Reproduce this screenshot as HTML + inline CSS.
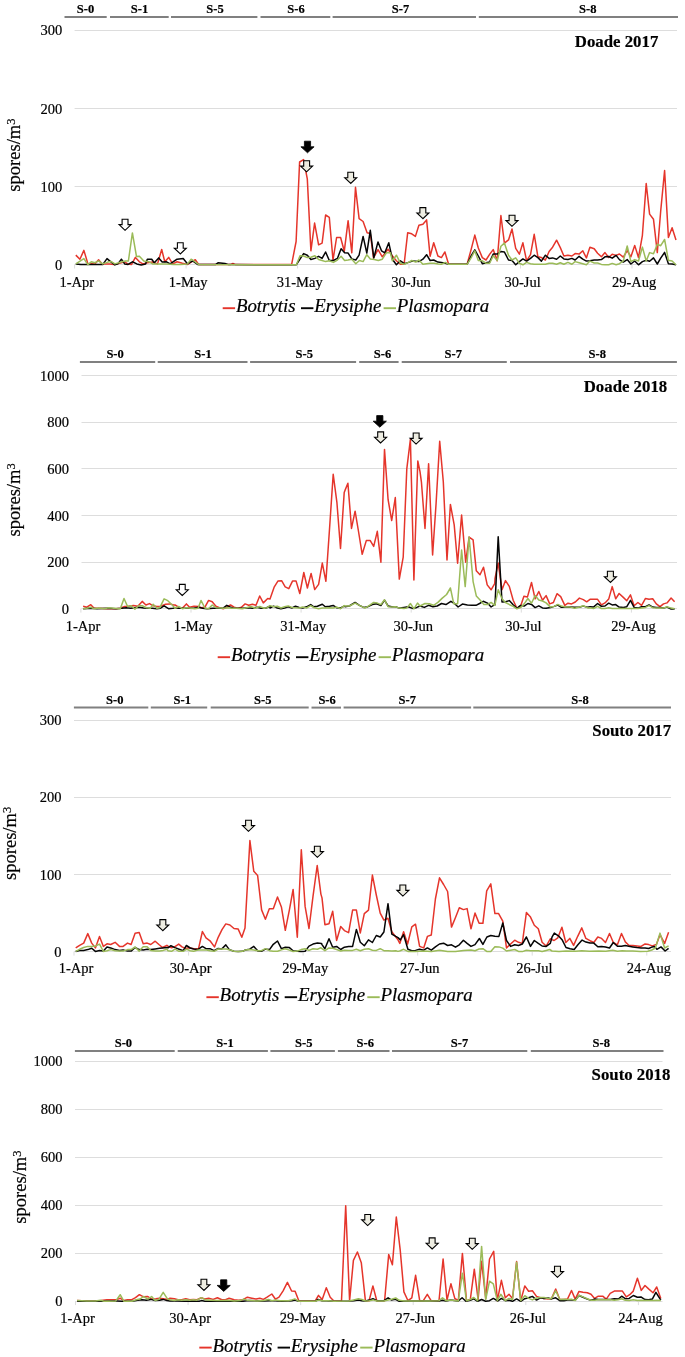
<!DOCTYPE html>
<html><head><meta charset="utf-8"><style>
html,body{margin:0;padding:0;background:#fff;}
svg{display:block;will-change:transform;}
text{font-family:"Liberation Serif", serif;fill:#000;stroke:#000;stroke-width:0.2px;}
</style></head><body>
<svg width="685" height="1357" viewBox="0 0 685 1357">
<line x1="74.6" y1="264.5" x2="677" y2="264.5" stroke="#dddddd" stroke-width="1"/>
<text x="62.2" y="269.6" text-anchor="end" font-size="14.5">0</text>
<line x1="74.6" y1="186.5" x2="677" y2="186.5" stroke="#dddddd" stroke-width="1"/>
<text x="62.2" y="191.5" text-anchor="end" font-size="14.5">100</text>
<line x1="74.6" y1="108.5" x2="677" y2="108.5" stroke="#dddddd" stroke-width="1"/>
<text x="62.2" y="113.5" text-anchor="end" font-size="14.5">200</text>
<line x1="74.6" y1="30.5" x2="677" y2="30.5" stroke="#dddddd" stroke-width="1"/>
<text x="62.2" y="35.4" text-anchor="end" font-size="14.5">300</text>
<line x1="64.5" y1="17" x2="106.7" y2="17" stroke="#808080" stroke-width="2"/>
<text transform="translate(85.5,12.9) scale(0.95,1)" text-anchor="middle" font-size="13.2" font-weight="bold" stroke="#000" stroke-width="0.25">S-0</text>
<line x1="110" y1="17" x2="168.7" y2="17" stroke="#808080" stroke-width="2"/>
<text transform="translate(139.5,12.9) scale(0.95,1)" text-anchor="middle" font-size="13.2" font-weight="bold" stroke="#000" stroke-width="0.25">S-1</text>
<line x1="171" y1="17" x2="257.4" y2="17" stroke="#808080" stroke-width="2"/>
<text transform="translate(215,12.9) scale(0.95,1)" text-anchor="middle" font-size="13.2" font-weight="bold" stroke="#000" stroke-width="0.25">S-5</text>
<line x1="260.5" y1="17" x2="330.3" y2="17" stroke="#808080" stroke-width="2"/>
<text transform="translate(296,12.9) scale(0.95,1)" text-anchor="middle" font-size="13.2" font-weight="bold" stroke="#000" stroke-width="0.25">S-6</text>
<line x1="332.6" y1="17" x2="476" y2="17" stroke="#808080" stroke-width="2"/>
<text transform="translate(400.5,12.9) scale(0.95,1)" text-anchor="middle" font-size="13.2" font-weight="bold" stroke="#000" stroke-width="0.25">S-7</text>
<line x1="478.8" y1="17" x2="678" y2="17" stroke="#808080" stroke-width="2"/>
<text transform="translate(587.8,12.9) scale(0.95,1)" text-anchor="middle" font-size="13.2" font-weight="bold" stroke="#000" stroke-width="0.25">S-8</text>
<text x="658.3" y="46.8" text-anchor="end" font-size="16.8" font-weight="bold">Doade 2017</text>
<line x1="74.6" y1="264.5" x2="74.6" y2="268.5" stroke="#dddddd" stroke-width="1"/>
<text x="76.7" y="286.8" text-anchor="middle" font-size="14.5">1-Apr</text>
<line x1="186.1" y1="264.5" x2="186.1" y2="268.5" stroke="#dddddd" stroke-width="1"/>
<text x="188.2" y="286.8" text-anchor="middle" font-size="14.5">1-May</text>
<line x1="297.6" y1="264.5" x2="297.6" y2="268.5" stroke="#dddddd" stroke-width="1"/>
<text x="299.7" y="286.8" text-anchor="middle" font-size="14.5">31-May</text>
<line x1="409" y1="264.5" x2="409" y2="268.5" stroke="#dddddd" stroke-width="1"/>
<text x="411.1" y="286.8" text-anchor="middle" font-size="14.5">30-Jun</text>
<line x1="520.5" y1="264.5" x2="520.5" y2="268.5" stroke="#dddddd" stroke-width="1"/>
<text x="522.6" y="286.8" text-anchor="middle" font-size="14.5">30-Jul</text>
<line x1="632" y1="264.5" x2="632" y2="268.5" stroke="#dddddd" stroke-width="1"/>
<text x="634.1" y="286.8" text-anchor="middle" font-size="14.5">29-Aug</text>
<text transform="translate(19.9,155.1) rotate(-90)" text-anchor="middle" font-size="18.5">spores/m<tspan font-size="12.5" dy="-5">3</tspan></text>
<line x1="222.7" y1="308.2" x2="235.1" y2="308.2" stroke="#e5352b" stroke-width="1.9"/>
<text transform="translate(235.9,312.2) scale(1.05,1)" font-size="18" font-style="italic">Botrytis</text>
<line x1="301" y1="308.2" x2="313.4" y2="308.2" stroke="#050505" stroke-width="1.9"/>
<text transform="translate(314.2,312.2) scale(1.05,1)" font-size="18" font-style="italic">Erysiphe</text>
<line x1="383.6" y1="308.2" x2="396" y2="308.2" stroke="#9bbb59" stroke-width="1.9"/>
<text transform="translate(396.8,312.2) scale(1.05,1)" font-size="18" font-style="italic">Plasmopara</text>
<polyline points="75.8,255.1 79.9,259.2 83.9,250.4 87.8,263.5 94.8,263.9 98.6,259.7 102.1,263.9 109.7,263.9 114,264.4 117.5,263.9 124.6,261.8 127.7,263.9 131.6,264.4 135.4,257.4 139.4,261.8 142.9,263.9 147.3,262.7 152.6,262.1 157.5,263.9 161.7,249.5 164.8,261.8 168.7,257.4 172.7,263.9 177.1,261.8 182.4,263.2 187.6,264.4 195.3,259.7 198.8,264.6 230.3,264.6 232.9,263.5 235.6,264.6 291.6,264.6 296.1,241.5 299.6,162 303.6,159.6 307.3,178.9 310.9,250.8 314.6,223.1 318.6,244.8 322.1,243.1 325.6,215 329.3,217.4 333,260 336.6,237.5 340.6,237.5 344.3,251.2 348.1,220.7 351.8,252.8 355.5,187.3 359.1,218.7 363.1,221.5 367.1,232.7 370.3,233.5 373.5,257.9 378,249.6 382.3,256.8 388,249.2 392.4,256 396.4,260.8 400.4,264.3 404.1,264.3 407.7,232.7 411.7,233.8 415.4,236.4 418.9,225.2 422.9,224.2 426.6,219.9 430.1,256.3 433.7,242.8 437.9,256 441.4,257.6 444.9,252 448.6,264.3 467.1,264.3 471.1,249.6 474.8,235.1 478.3,248 482.3,257.6 486,260 489.6,254.4 493.2,249.6 497.2,260.8 500.9,215.5 504.4,243.1 508.5,239.9 512,229 515.7,248.3 519.4,254.1 522.9,242.8 526.6,260.8 530.5,254.7 534.2,234.3 537.9,256.8 541.4,257.6 545.4,260 549.1,251.5 552.6,247.2 556.6,240.2 560.3,247.6 563.9,256 567.9,255.2 571.9,256 575.1,253.6 579.1,254.1 582.8,250.8 586.4,257.9 589.9,247.2 594.2,248.8 597.6,253.3 601.4,256.8 605,252.6 608.7,257.5 612.2,254.3 616.1,255.4 619.4,254 623.3,257.1 627.2,250.6 630.9,256.8 634.7,245.4 638.5,257.5 642.4,235.3 646.2,183.6 649.6,214.1 653.5,219.3 657.3,252.6 660.7,211 664.6,170.5 668.4,237.4 672.1,227.7 676,239.9" fill="none" stroke="#e5352b" stroke-width="1.5" stroke-linejoin="round"/>
<polyline points="75.8,263.9 80.8,264.6 87.8,264.6 102.7,264.6 107,258.6 110.9,261.8 114.9,264.9 117.9,263.9 121.4,259.2 124.6,263.9 128.1,264.4 132.4,261.8 136.8,263.9 141.2,264.9 145.6,263.9 147.3,259.2 151.7,259.2 154.3,262.7 158.7,257.9 162.2,262.1 166.6,261.8 170.1,263.9 177.1,259.2 183.2,258.6 187.6,263.9 192.6,260.9 197.9,264.6 215.4,264.6 218,262.8 225,263.5 228.5,264.6 296.4,264.7 303.6,253.6 307.3,255.2 310.9,259.5 314.9,258.4 318.6,256.3 322.1,258.4 325.6,252 329.3,260.5 333.4,260.5 337.4,258.4 341.1,248.8 344.6,252.8 348.1,253.1 351.8,258.9 355.8,260 359.1,255.2 363.1,236.4 366.8,253.1 370.3,230.3 373.8,257.9 378,241.9 381.5,250.8 384.8,252.8 388.8,242.8 392.4,259.2 396.4,264.8 400.4,260.8 404.4,263.7 408.5,262.4 412.5,261.1 418.9,261.6 422.9,259.2 426.6,254.7 430.1,260.5 433.7,260 437.9,262.1 441.4,262.4 445.4,263.2 448.6,264.3 467.1,264.3 471.1,256 474.8,249.9 478.3,256 482.3,263.7 486,262.7 489.6,262.1 493.2,254.1 497.2,254.1 500.9,251.5 504.4,252 508.5,260 512,260.5 515.7,264.8 519.4,261.6 522.9,258.9 526.6,261.1 530.5,258.4 534.2,255.2 537.9,257.6 541.4,261.1 545.4,255.2 549.1,258.4 552.6,257.9 556.6,259.2 560.3,256 563.9,258.9 567.9,259.5 571.9,258.4 575.1,260 579.1,256.3 582.8,259.2 586.4,261.1 589.9,260.8 594.2,259.9 597.6,259.9 601.4,259.6 605,256.8 608.7,256.5 612.2,258.2 616.1,255.4 619.4,259.6 623.3,262.1 627.2,259.6 630.9,264 634.7,261 638.5,264.8 642.4,261.6 646.2,260.3 649.6,261.2 653.5,257.9 657.3,264 660.7,258.2 664.6,252.4 668.4,263.7 672.1,264 676,264.8" fill="none" stroke="#050505" stroke-width="1.5" stroke-linejoin="round"/>
<polyline points="75.8,263.9 83.9,258.6 87.8,264.6 91.3,261.8 94.8,262.7 98.6,260.9 102.7,263.9 107.9,262.1 110.9,261.4 114.9,263.9 121.9,261.8 125.4,260.9 128.4,260.9 132.4,232.9 136.5,256.5 139.4,256.2 143.8,260.9 149.1,261.8 152.6,263.9 159.6,263.9 166.6,263.9 173.6,264.6 180.6,264.6 187.6,263.9 191.1,259.3 192.6,260 198.8,264.6 296.4,264.7 300,255.7 303.6,256 307.3,257.6 310.9,257.3 314.9,255.7 318.6,259.5 322.1,260.5 325.6,261.6 329.3,260.8 333.4,262.4 337.4,260 341.1,256.3 344.6,260.5 348.1,260 351.8,259.2 355.8,263.7 359.4,260.5 363.1,261.6 366.8,254.7 370.3,258.9 374.3,259.5 378.3,260.5 382.3,259.2 386.4,252.8 390.4,252.8 392.4,260.8 396.4,255.2 400.4,263.2 404.4,264.3 408.5,262.4 411.7,260.5 415.7,262.1 418.9,260 422.9,264.3 430.1,263.2 434.2,263.2 438.2,264 441.4,264.3 445.4,262.4 448.6,264.3 467.1,264.3 471.1,257.9 474.8,250.8 478.3,260.5 482.3,260.8 486,263.2 489.6,263.2 493.2,255.7 497.2,260.5 500.9,246.3 504.4,243.1 508.5,255.2 512,260 515.7,257.9 519.4,263.2 522.9,264.8 526.6,262.4 530.5,263.7 534.2,264.3 538.2,264.3 545.4,264.3 549.1,263.2 552.6,263.2 556.6,264.3 560.3,262.7 563.9,264.3 567.9,262.4 571.9,264.3 575.1,261.6 579.1,262.7 582.8,263.7 586.4,264.8 589.9,261.1 594.2,263 597.6,263 601.4,264.4 605,264.8 608.7,264.8 612.2,263.4 616.1,264.8 619.4,263.7 623.3,261 627.2,246 630.9,261.6 634.7,259.6 638.5,261 642.4,247.1 646.2,261 649.6,252.6 653.5,253.7 657.3,244.3 660.7,245.7 664.6,239.5 668.4,260.3 672.1,261 676,264.8" fill="none" stroke="#9bbb59" stroke-width="1.5" stroke-linejoin="round"/>
<line x1="81.5" y1="608.5" x2="677" y2="608.5" stroke="#dddddd" stroke-width="1"/>
<text x="69.1" y="613.7" text-anchor="end" font-size="14.5">0</text>
<line x1="81.5" y1="562.5" x2="677" y2="562.5" stroke="#dddddd" stroke-width="1"/>
<text x="69.1" y="567.1" text-anchor="end" font-size="14.5">200</text>
<line x1="81.5" y1="515.5" x2="677" y2="515.5" stroke="#dddddd" stroke-width="1"/>
<text x="69.1" y="520.5" text-anchor="end" font-size="14.5">400</text>
<line x1="81.5" y1="468.5" x2="677" y2="468.5" stroke="#dddddd" stroke-width="1"/>
<text x="69.1" y="474" text-anchor="end" font-size="14.5">600</text>
<line x1="81.5" y1="422.5" x2="677" y2="422.5" stroke="#dddddd" stroke-width="1"/>
<text x="69.1" y="427.4" text-anchor="end" font-size="14.5">800</text>
<line x1="81.5" y1="375.5" x2="677" y2="375.5" stroke="#dddddd" stroke-width="1"/>
<text x="69.1" y="380.8" text-anchor="end" font-size="14.5">1000</text>
<line x1="79.9" y1="361.9" x2="155.2" y2="361.9" stroke="#808080" stroke-width="2"/>
<text transform="translate(115.1,357.8) scale(0.95,1)" text-anchor="middle" font-size="13.2" font-weight="bold" stroke="#000" stroke-width="0.25">S-0</text>
<line x1="157.7" y1="361.9" x2="247.5" y2="361.9" stroke="#808080" stroke-width="2"/>
<text transform="translate(203,357.8) scale(0.95,1)" text-anchor="middle" font-size="13.2" font-weight="bold" stroke="#000" stroke-width="0.25">S-1</text>
<line x1="250.1" y1="361.9" x2="356.1" y2="361.9" stroke="#808080" stroke-width="2"/>
<text transform="translate(304.2,357.8) scale(0.95,1)" text-anchor="middle" font-size="13.2" font-weight="bold" stroke="#000" stroke-width="0.25">S-5</text>
<line x1="359.2" y1="361.9" x2="398.6" y2="361.9" stroke="#808080" stroke-width="2"/>
<text transform="translate(382.5,357.8) scale(0.95,1)" text-anchor="middle" font-size="13.2" font-weight="bold" stroke="#000" stroke-width="0.25">S-6</text>
<line x1="401.7" y1="361.9" x2="506.8" y2="361.9" stroke="#808080" stroke-width="2"/>
<text transform="translate(453.2,357.8) scale(0.95,1)" text-anchor="middle" font-size="13.2" font-weight="bold" stroke="#000" stroke-width="0.25">S-7</text>
<line x1="510" y1="361.9" x2="676.9" y2="361.9" stroke="#808080" stroke-width="2"/>
<text transform="translate(597.2,357.8) scale(0.95,1)" text-anchor="middle" font-size="13.2" font-weight="bold" stroke="#000" stroke-width="0.25">S-8</text>
<text x="667.2" y="391.7" text-anchor="end" font-size="16.8" font-weight="bold">Doade 2018</text>
<line x1="80.9" y1="608.6" x2="80.9" y2="612.6" stroke="#dddddd" stroke-width="1"/>
<text x="83" y="631" text-anchor="middle" font-size="14.5">1-Apr</text>
<line x1="191" y1="608.6" x2="191" y2="612.6" stroke="#dddddd" stroke-width="1"/>
<text x="193.1" y="631" text-anchor="middle" font-size="14.5">1-May</text>
<line x1="301.1" y1="608.6" x2="301.1" y2="612.6" stroke="#dddddd" stroke-width="1"/>
<text x="303.2" y="631" text-anchor="middle" font-size="14.5">31-May</text>
<line x1="411.2" y1="608.6" x2="411.2" y2="612.6" stroke="#dddddd" stroke-width="1"/>
<text x="413.3" y="631" text-anchor="middle" font-size="14.5">30-Jun</text>
<line x1="521.3" y1="608.6" x2="521.3" y2="612.6" stroke="#dddddd" stroke-width="1"/>
<text x="523.4" y="631" text-anchor="middle" font-size="14.5">30-Jul</text>
<line x1="631.4" y1="608.6" x2="631.4" y2="612.6" stroke="#dddddd" stroke-width="1"/>
<text x="633.5" y="631" text-anchor="middle" font-size="14.5">29-Aug</text>
<text transform="translate(19.9,499.9) rotate(-90)" text-anchor="middle" font-size="18.5">spores/m<tspan font-size="12.5" dy="-5">3</tspan></text>
<line x1="217.7" y1="657.2" x2="230.1" y2="657.2" stroke="#e5352b" stroke-width="1.9"/>
<text transform="translate(230.9,661.2) scale(1.05,1)" font-size="18" font-style="italic">Botrytis</text>
<line x1="296" y1="657.2" x2="308.4" y2="657.2" stroke="#050505" stroke-width="1.9"/>
<text transform="translate(309.2,661.2) scale(1.05,1)" font-size="18" font-style="italic">Erysiphe</text>
<line x1="378.6" y1="657.2" x2="391" y2="657.2" stroke="#9bbb59" stroke-width="1.9"/>
<text transform="translate(391.8,661.2) scale(1.05,1)" font-size="18" font-style="italic">Plasmopara</text>
<polyline points="83.1,606.2 86.8,607.2 90.8,604.7 94.1,608.2 98.4,608.2 107.2,608.7 116,608.7 120.3,608.2 124.7,606.5 128.4,606.2 133.5,605.6 137.8,606.2 142.2,601.4 145.9,605 149.5,603.6 153.2,605.8 156.8,606.5 160.5,606.2 165.6,604.3 170,603.9 173.6,605 175,605 178.7,607.2 182.3,608.2 186.4,603.9 189.6,607.2 194,606.2 198.4,606.5 201.3,607.7 204.9,607.2 208.6,600.4 212.2,601.8 215.9,606.2 219.5,607.7 223.2,608.7 226.8,607.2 230.5,605 234.1,607.2 237.8,608.2 241.4,607.2 245.1,603.9 248.7,605.3 252.4,604.3 256,605.3 259.7,596 263.3,602.9 267.7,598.5 270,598.9 274.3,586.8 277.9,581.1 281.6,580.7 285.2,586.8 288.8,588.6 292.5,581.1 296.1,581.1 299.8,593.5 303.8,572.5 307.4,588 311.1,573.4 314.7,589.6 318.6,584.4 322.3,563.1 325.9,581.3 329.6,527.8 333.2,474.3 336.9,502.3 340.5,548.5 344.2,492.6 345,490.4 347.9,483.2 351.5,528.4 355.1,511.2 358.6,532 362.2,554.3 366.3,540.6 370.1,540.4 373.7,546.4 377.3,531.3 380.9,562.2 384.5,449.4 388.1,499.7 391.7,520.5 395.3,497.6 399.3,579.1 403.2,557.2 406.8,468.8 410.4,439.4 413.9,580.1 417.8,460.9 420,471.7 421.4,481.8 425,528.4 428.6,463.8 432.6,555 436.1,503.3 439.7,441.3 443.3,481.8 447,560 450.4,504.4 454.2,524.9 457.6,563.3 461.6,515.1 465.7,562.2 469.1,537.1 473.1,539.9 476.3,570.8 480,574.8 483.5,567.2 487.2,584.9 491.1,589.8 494.7,583.7 495,578.4 498.2,563.1 502,589.8 505.5,580.6 509.3,586.4 513.2,600.3 516.9,608.3 520.5,606.4 523.9,596.2 527.4,597.1 531.5,582.5 535.1,598.8 538.8,591.5 542.5,600.3 546.1,595.6 549.7,603.9 553.4,602.5 557,593.7 560.7,596.6 564.8,605.4 568,603.2 571.6,603.9 575.3,602 579.4,598.1 583.3,599.6 586.7,601.8 590,599.3 593.5,599.3 597.6,599.3 601.4,604.9 605,602.9 608.7,599.1 612.2,586.6 615.7,598.8 619.1,593.5 623.3,597.4 626.8,600.7 630.5,594.9 634.1,605.7 637.9,602.5 641.6,605.3 645.5,598.4 649,599.3 652.7,598.8 656.3,603.9 660,606.7 663.5,603.9 667,602.9 671.1,598 674.6,601.8" fill="none" stroke="#e5352b" stroke-width="1.5" stroke-linejoin="round"/>
<polyline points="83.1,608.7 91.1,608.2 97,608.7 107.2,608.2 116,608.7 121.8,608.2 126.2,607.7 130.6,608.2 134.9,607.7 139.3,607.2 143.7,608 148.1,608.2 152.4,608.2 156.8,608.7 160.5,608.2 164.1,605.8 168.5,608.7 172.9,608.2 175,607.7 178.7,608.2 182.3,608.2 186.7,608.2 194,608.2 198.4,607.2 202.7,608.2 207.1,608.7 213,608.2 218.8,608.2 223.2,608.2 226.8,605.3 230.5,607.2 234.1,608.2 237.8,608.2 242.2,608.2 248,607.7 252.4,608.2 256.8,607.2 261.1,608.2 265.5,608.2 269.9,606.2 270,608 273.6,606.2 277.3,608 280.9,608.7 284.6,608 288.2,606.8 291.9,608 295.5,606.2 299.2,607.5 302.8,608 306.5,606.8 310.7,604.6 313.8,606.8 317.4,606.2 322.3,604.2 325.3,606.8 329.6,606.2 333.2,605.4 336.9,607.8 340.5,608 344.2,606.2 345,606.7 349.3,606 355.1,602.4 359.4,605.3 363.7,607.4 368,606.7 372.3,604.6 376.6,603.8 380.9,605.6 384.5,600.2 388.1,606 391.7,606.7 395.3,606.7 399.6,608.1 403.9,607.4 408.2,606.7 412.5,608.4 416.8,607.4 420,606 424.3,607.4 428.6,605.3 432.9,606.7 437.2,606 441.5,603.5 445.9,604.6 450.9,601.3 454.5,603.5 458.1,607 462.4,604.1 467.4,605 471.7,605.3 476,605.3 479.6,603.5 483.2,601.3 487.5,603.1 491.1,607 494.7,604.6 495,604.7 498.2,536.8 502,602 505.5,601.8 509.3,600.6 513.2,604.7 516.9,608.3 520.5,605.4 524.2,606.1 527.9,603.5 531.5,604.4 535.1,607.6 538.8,605.8 542.5,607.9 546.1,608.3 550.5,607.6 554.1,606.4 557.8,605 561.4,607.3 565.1,607.3 569.5,606.9 574.6,607.3 578.9,607.3 583.3,606.1 587.7,607.3 590,606.7 593.5,607.1 597.6,603.5 601.4,606.3 605,606 608.7,603.2 612.2,604.9 615.7,604.6 619.1,607.1 623.3,607.4 626.8,606.7 630.5,600.4 634.1,607.4 637.9,608.1 641.6,606.7 645.5,606.7 649,604.9 652.7,607.1 656.3,607.4 660,607.4 663.5,608.1 667,607.1 671.1,609 674.6,609" fill="none" stroke="#050505" stroke-width="1.5" stroke-linejoin="round"/>
<polyline points="83.1,608.7 86.8,608.2 90.8,607.2 94.1,608.7 98.4,608 104.3,608.7 108.7,607.7 113.8,608.2 120.3,608.7 124,598.5 127.6,606.5 131.3,605.8 134.9,609.1 138.6,605.8 142.2,605.8 146.6,607.7 150.3,608.2 153.2,604.3 156.8,608.2 159.8,607.7 164.1,598.9 167.8,600.7 172.2,605 175,608.2 178.7,606.5 182.3,608.7 186.7,607.7 191.1,608.2 194.7,608.7 198.1,608.2 201,600.4 204.9,608 208.6,608.7 212.2,605 215.9,607.7 220.3,608 223.9,608.2 227.6,607.7 231.9,608.2 236.3,608.2 242.2,608.7 246.5,607.7 250.9,606.5 255.3,608.2 259.7,606.5 264.1,608.2 267,607.7 270,605.6 273.6,606.8 277.3,606.2 280.9,608 284.6,606.8 288.2,605.9 291.9,607.5 295.5,607.8 299.2,608 302.8,607.1 306.5,608 310.7,605.6 313.8,607.5 318.6,608.7 322.3,608 325.9,608 329.6,607.8 333.2,608 336.9,607.1 340.5,608.7 344.2,605.6 345,606 349.3,606 355.1,603.1 359.4,605.3 365.1,608.1 369.4,605.3 373.7,602.4 377.3,603.1 380.9,604.6 384.5,599.8 388.1,606.7 391.7,607 395.3,606.7 399.6,608.1 403.9,608.4 406.8,608.1 410.4,603.5 413.9,608.9 417.5,603.1 420,606 425,603.5 429.3,603.8 433.6,605.3 437.9,602.4 442.3,598.1 446.6,594.5 450.4,588 453.8,603.8 457.6,603.8 461.6,550 465.2,586.6 469.1,537.1 473.1,581.6 476.3,595.9 480.3,600.2 483.9,604.6 487.5,604.6 491.1,602.4 494.7,605.3 495,604.7 498.2,589.8 502,598.8 505.5,602.5 509.6,604.7 513.2,606.4 516.9,608.8 520.5,607.6 524.2,603.9 527.9,598.5 531.5,603.2 535.1,595.6 538.8,600 542.5,601 546.1,602.9 550.2,606.9 554.1,606.4 557.8,604.4 561.4,606.1 565.1,606.9 569.5,606.9 574.6,608.3 578.9,607.3 583.3,605.8 587.7,607.9 590,607.7 593.5,608.5 597.6,606.3 601.4,608.5 605,608.5 608.7,607.7 612.2,608.5 615.7,608.5 623.3,608.5 630.5,608.5 637.9,608.5 645.5,607.4 649,605.7 652.7,607.7 660,608.1 663.5,608.1 667,606.7 671.1,608.1 674.6,608.8" fill="none" stroke="#9bbb59" stroke-width="1.5" stroke-linejoin="round"/>
<line x1="74" y1="951.5" x2="671" y2="951.5" stroke="#dddddd" stroke-width="1"/>
<text x="61.6" y="956.7" text-anchor="end" font-size="14.5">0</text>
<line x1="74" y1="874.5" x2="671" y2="874.5" stroke="#dddddd" stroke-width="1"/>
<text x="61.6" y="879.5" text-anchor="end" font-size="14.5">100</text>
<line x1="74" y1="797.5" x2="671" y2="797.5" stroke="#dddddd" stroke-width="1"/>
<text x="61.6" y="802.3" text-anchor="end" font-size="14.5">200</text>
<line x1="74" y1="720.5" x2="671" y2="720.5" stroke="#dddddd" stroke-width="1"/>
<text x="61.6" y="725.1" text-anchor="end" font-size="14.5">300</text>
<line x1="73.9" y1="707.6" x2="148.3" y2="707.6" stroke="#808080" stroke-width="2"/>
<text transform="translate(114.8,703.5) scale(0.95,1)" text-anchor="middle" font-size="13.2" font-weight="bold" stroke="#000" stroke-width="0.25">S-0</text>
<line x1="150.8" y1="707.6" x2="207.2" y2="707.6" stroke="#808080" stroke-width="2"/>
<text transform="translate(182.2,703.5) scale(0.95,1)" text-anchor="middle" font-size="13.2" font-weight="bold" stroke="#000" stroke-width="0.25">S-1</text>
<line x1="210.7" y1="707.6" x2="308.7" y2="707.6" stroke="#808080" stroke-width="2"/>
<text transform="translate(262.7,703.5) scale(0.95,1)" text-anchor="middle" font-size="13.2" font-weight="bold" stroke="#000" stroke-width="0.25">S-5</text>
<line x1="311.5" y1="707.6" x2="341" y2="707.6" stroke="#808080" stroke-width="2"/>
<text transform="translate(327.1,703.5) scale(0.95,1)" text-anchor="middle" font-size="13.2" font-weight="bold" stroke="#000" stroke-width="0.25">S-6</text>
<line x1="343.6" y1="707.6" x2="471.1" y2="707.6" stroke="#808080" stroke-width="2"/>
<text transform="translate(407.3,703.5) scale(0.95,1)" text-anchor="middle" font-size="13.2" font-weight="bold" stroke="#000" stroke-width="0.25">S-7</text>
<line x1="473.3" y1="707.6" x2="671" y2="707.6" stroke="#808080" stroke-width="2"/>
<text transform="translate(580,703.5) scale(0.95,1)" text-anchor="middle" font-size="13.2" font-weight="bold" stroke="#000" stroke-width="0.25">S-8</text>
<text x="671.1" y="735.8" text-anchor="end" font-size="16.8" font-weight="bold">Souto 2017</text>
<line x1="74" y1="951.6" x2="74" y2="955.6" stroke="#dddddd" stroke-width="1"/>
<text x="76.1" y="973" text-anchor="middle" font-size="14.5">1-Apr</text>
<line x1="188.6" y1="951.6" x2="188.6" y2="955.6" stroke="#dddddd" stroke-width="1"/>
<text x="190.7" y="973" text-anchor="middle" font-size="14.5">30-Apr</text>
<line x1="303.1" y1="951.6" x2="303.1" y2="955.6" stroke="#dddddd" stroke-width="1"/>
<text x="305.2" y="973" text-anchor="middle" font-size="14.5">29-May</text>
<line x1="417.7" y1="951.6" x2="417.7" y2="955.6" stroke="#dddddd" stroke-width="1"/>
<text x="419.8" y="973" text-anchor="middle" font-size="14.5">27-Jun</text>
<line x1="532.2" y1="951.6" x2="532.2" y2="955.6" stroke="#dddddd" stroke-width="1"/>
<text x="534.3" y="973" text-anchor="middle" font-size="14.5">26-Jul</text>
<line x1="646.8" y1="951.6" x2="646.8" y2="955.6" stroke="#dddddd" stroke-width="1"/>
<text x="648.9" y="973" text-anchor="middle" font-size="14.5">24-Aug</text>
<text transform="translate(15.8,843.4) rotate(-90)" text-anchor="middle" font-size="18.5">spores/m<tspan font-size="12.5" dy="-5">3</tspan></text>
<line x1="206.4" y1="997.2" x2="218.8" y2="997.2" stroke="#e5352b" stroke-width="1.9"/>
<text transform="translate(219.6,1001.2) scale(1.05,1)" font-size="18" font-style="italic">Botrytis</text>
<line x1="284.7" y1="997.2" x2="297.1" y2="997.2" stroke="#050505" stroke-width="1.9"/>
<text transform="translate(297.9,1001.2) scale(1.05,1)" font-size="18" font-style="italic">Erysiphe</text>
<line x1="367.3" y1="997.2" x2="379.7" y2="997.2" stroke="#9bbb59" stroke-width="1.9"/>
<text transform="translate(380.5,1001.2) scale(1.05,1)" font-size="18" font-style="italic">Plasmopara</text>
<polyline points="75.7,947.9 79.6,945.3 83.7,943.1 87.8,933.6 91.7,943.1 95.4,947.9 99.5,936.5 103.4,946.4 107,943.8 110.7,944.5 115.1,942.3 119.5,946.4 123.1,946.4 127.5,943.1 131.1,944.5 135.1,933.3 139.2,932.4 143.2,943.8 147.2,943.1 150.8,944.5 155.2,941.2 158.9,944.5 162.5,947.5 166.9,945.3 168,946.1 171.5,947.8 175,946.6 178.7,944.1 182,946.9 185.5,948.4 189,947.8 192.5,948.4 195.4,949 198.6,948.4 202.4,931.5 206,937.9 210,940.8 214.5,946.9 218.2,937.3 222,929.7 225.8,923.9 229.9,925 234,928.5 238.1,928.9 241.8,937.3 245,928 249.9,840.6 253.8,871.3 257.6,875.4 261.6,909.9 265.4,919.2 269.3,908.7 273.3,908.7 277.5,897 281.4,906.9 285.3,930.3 289.4,909.9 293.1,889.4 297.3,937.3 301.3,849.7 305.1,906.4 309,928.5 313,896.4 317.2,865.5 320.9,894.1 322,897.9 324.9,924.7 329,923.8 332.7,911.3 336.6,940.5 340.7,926.5 344.4,930.6 348.6,932.7 352.6,910.1 356.4,910.1 360.3,932.9 364.3,913.6 368.5,910.1 372.4,875.1 376.3,895 380.2,913.1 383.9,920.1 388,918.3 391.8,931.8 395.8,937 398,939.9 399.8,943.4 403.6,931.8 407.6,944 411.8,926.9 415.5,924.2 419.6,946.4 423.7,947.9 427.4,936.4 431.3,935 435.4,899 439.5,877.8 443.6,884.5 447.6,891.5 451.5,927.1 455.5,917.5 459.3,907.8 463.4,909.6 467.1,908.6 471,928.8 475,913.1 479.1,923.3 482.9,923.3 486.7,890.9 490.8,883.9 494.9,913.6 498.6,913.6 502.8,921.2 506.5,947.9 510.6,944 514.7,940.2 518.5,942.3 522.3,943.4 526.4,912.5 530.5,917.1 534.3,925.3 538.3,928.8 542.1,942.3 546.2,946 550.3,938.8 552,939.6 554.1,940.5 557.8,937.8 561.9,927.3 565.8,942.5 569.8,938.4 573.6,945.4 577.7,936.3 581.8,927.9 585.9,938.4 590,940.7 593.8,942.5 597.8,937 601.6,938.4 605.5,942.5 609.5,933.5 613.3,942.5 617.4,944.8 621.5,933.5 625.3,941.9 628.8,945.2 632.9,945.4 637,945.9 641.1,946.4 645.1,943.9 648.7,944.6 652.3,945.9 656.4,944.4 660,934.7 664.6,943.4 668.6,932.3" fill="none" stroke="#e5352b" stroke-width="1.5" stroke-linejoin="round"/>
<polyline points="75.7,951.4 79.6,950.4 83.7,950.4 87.8,949.6 91.7,948.2 95.4,951.4 99.5,950.4 103.4,951.1 107,947 110.7,947.9 115.1,949.6 119.5,950.4 123.1,949.9 127.5,951.1 131.1,951.1 135.1,947.5 139.2,949.6 143.2,949.9 147.2,949.3 150.8,949.6 155.2,948.9 159.6,948.2 162.5,947.9 166.9,947.5 168,947.8 170.9,945.7 175,947.6 179.1,949.2 183.2,950.7 186.4,945.5 190.2,948 193.7,949 197.8,949.6 202.4,946.4 206,948.7 210,948.7 214.1,950.7 218.2,948.4 221.7,949 225.8,944.9 229.3,949.6 234,951.3 238.1,951.5 242.7,951.3 245,950.1 249.7,949.2 253.8,946.4 257.9,951.1 261.4,951.3 265.4,949.2 269.5,949.6 273.3,944.3 277.5,941 281.4,948.7 285.3,947.2 289.4,947.6 293.1,950.7 297.3,951.3 301.1,951.5 305.1,951.3 309,946.1 313,944.1 317.4,943.1 321.5,943.4 322,944.6 324.9,948.7 329,938.8 332.7,947.2 336.6,946.4 340.7,949.5 344.4,947.2 348.6,946.4 352.6,946.4 356.4,929.4 360.3,942.3 364.3,945.8 368.5,939.9 372.4,942.5 376.3,935.5 380.2,937 383.9,932 388,903.7 391.8,934.1 395.8,936.4 398,937.6 400.3,939.9 403.6,934.7 407.9,949.3 411.8,950.7 415.5,950.4 419.6,949.3 423.7,950.2 427.4,947.9 431.3,950.2 435.4,946.9 439.5,944 443.6,943.2 447.6,945.5 451.5,944.8 455.5,947.2 459.3,944.8 463.4,940.2 467.1,943.4 471,946.4 475,944.6 479.4,938.5 482.9,944.4 486.9,937 490.8,935.5 494.9,936.2 498.9,936.4 502.8,923 506.5,940.5 510.6,946.4 514.7,944.8 518.5,945.5 522.3,944 526.4,937 530.5,946.4 534.3,940.5 538.3,943.4 542.1,946 546.2,946.4 550.3,943.4 552,937.2 554.3,933.1 558.4,935.8 562.3,940.1 566,947.5 570.1,948.7 574.2,949.5 577.9,944.8 582.1,940.1 585.9,942.1 590,943.1 593.8,943.1 597.8,946.8 601.6,946.6 605.5,947.1 609.5,948 613.3,942.5 617.4,946.3 621.5,946.3 625.3,945.6 628.8,946.2 632.9,946.9 637,947.6 641.1,948 645.1,948 648.7,948.5 652.3,946.9 654.3,946.4 656.9,949.3 661,946.9 665.1,951 668.6,948.3" fill="none" stroke="#050505" stroke-width="1.5" stroke-linejoin="round"/>
<polyline points="75.7,951.4 79.6,949.3 83.7,947.5 87.8,946.4 91.7,946.4 95.4,946 99.5,944.1 103.4,951.4 107,950.8 110.7,949.6 115.1,950.8 119.5,951.1 123.1,951.1 127.5,949.6 131.1,949.6 135.1,947 139.2,951.1 143.2,946.7 147.2,946.7 150.8,950.4 155.2,951.1 159.6,951.1 163.2,950.4 166.9,949.3 168,950.7 171.5,951.3 175,949.2 179.1,951.3 183.2,951.3 186.7,949.2 190.2,950.7 193.7,951.3 198.4,949.9 203,950.1 206.5,950.1 210,950.7 214.1,951.3 218.2,949 221.7,949 226.4,949 229.9,949.9 234,951.3 238.1,951.5 242.7,951.3 245,950.1 249.7,949.6 253.8,950.1 257.9,950.7 261.4,950.7 265.4,948.7 269.5,950.7 273.3,951.3 277.5,951.3 281.4,949.9 285.3,948.7 289.4,950.1 293.1,951.5 297.3,951.1 301.1,949.6 305.1,948.7 309,950.4 313,948.7 317.4,949.2 320.9,947.8 322,948.7 324.9,950.7 329,947.9 332.7,948.3 336.6,949.5 340.7,951 344.4,950.2 348.6,950.4 352.6,950.4 356.4,949.3 360.3,950.7 364.3,949.3 368.5,948.7 372.4,950.2 376.3,950.4 380.2,948.7 383.9,950.7 388,950.7 391.8,951 395.8,950.7 398,951.4 400.3,950.7 403.6,949.3 407.9,951.4 415.5,951.4 423.7,951 431.3,951.4 439.5,950.2 447.6,951.4 455.5,951.4 463.4,950.4 471,949.9 475,950.7 479.1,949 482.9,948.7 486.7,951.4 490.8,951.4 494.9,946.7 498.9,946.9 502.8,948.1 506.5,951 510.6,950.2 514.7,949.5 518.5,951.4 522.3,951.6 526.4,950.2 530.5,950.7 534.3,950.7 538.6,950.7 542.1,951.4 546.2,950.4 549.7,949.5 552,951 559,951.5 566,951 575.4,951.2 581.8,950.7 589.4,951.2 598.7,951 605.7,951.2 612.7,950.3 617.4,951.2 622.1,950.7 626.7,951 632.9,951 640.5,951.5 647.7,951.3 651.8,950 655.4,948 660,933.1 664.6,948 668.6,945.9" fill="none" stroke="#9bbb59" stroke-width="1.5" stroke-linejoin="round"/>
<line x1="75" y1="1301.5" x2="662.5" y2="1301.5" stroke="#dddddd" stroke-width="1"/>
<text x="62.6" y="1306.2" text-anchor="end" font-size="14.5">0</text>
<line x1="75" y1="1253.5" x2="662.5" y2="1253.5" stroke="#dddddd" stroke-width="1"/>
<text x="62.6" y="1258.2" text-anchor="end" font-size="14.5">200</text>
<line x1="75" y1="1205.5" x2="662.5" y2="1205.5" stroke="#dddddd" stroke-width="1"/>
<text x="62.6" y="1210.2" text-anchor="end" font-size="14.5">400</text>
<line x1="75" y1="1157.5" x2="662.5" y2="1157.5" stroke="#dddddd" stroke-width="1"/>
<text x="62.6" y="1162.1" text-anchor="end" font-size="14.5">600</text>
<line x1="75" y1="1109.5" x2="662.5" y2="1109.5" stroke="#dddddd" stroke-width="1"/>
<text x="62.6" y="1114.1" text-anchor="end" font-size="14.5">800</text>
<line x1="75" y1="1061.5" x2="662.5" y2="1061.5" stroke="#dddddd" stroke-width="1"/>
<text x="62.6" y="1066.1" text-anchor="end" font-size="14.5">1000</text>
<line x1="74.9" y1="1051.1" x2="174.7" y2="1051.1" stroke="#808080" stroke-width="2"/>
<text transform="translate(123.4,1047) scale(0.95,1)" text-anchor="middle" font-size="13.2" font-weight="bold" stroke="#000" stroke-width="0.25">S-0</text>
<line x1="177.7" y1="1051.1" x2="267.9" y2="1051.1" stroke="#808080" stroke-width="2"/>
<text transform="translate(225,1047) scale(0.95,1)" text-anchor="middle" font-size="13.2" font-weight="bold" stroke="#000" stroke-width="0.25">S-1</text>
<line x1="270.4" y1="1051.1" x2="334.9" y2="1051.1" stroke="#808080" stroke-width="2"/>
<text transform="translate(303.7,1047) scale(0.95,1)" text-anchor="middle" font-size="13.2" font-weight="bold" stroke="#000" stroke-width="0.25">S-5</text>
<line x1="337.9" y1="1051.1" x2="389.5" y2="1051.1" stroke="#808080" stroke-width="2"/>
<text transform="translate(365.3,1047) scale(0.95,1)" text-anchor="middle" font-size="13.2" font-weight="bold" stroke="#000" stroke-width="0.25">S-6</text>
<line x1="392" y1="1051.1" x2="527.3" y2="1051.1" stroke="#808080" stroke-width="2"/>
<text transform="translate(459.5,1047) scale(0.95,1)" text-anchor="middle" font-size="13.2" font-weight="bold" stroke="#000" stroke-width="0.25">S-7</text>
<line x1="530.8" y1="1051.1" x2="663.5" y2="1051.1" stroke="#808080" stroke-width="2"/>
<text transform="translate(601.3,1047) scale(0.95,1)" text-anchor="middle" font-size="13.2" font-weight="bold" stroke="#000" stroke-width="0.25">S-8</text>
<text x="670.4" y="1080" text-anchor="end" font-size="16.8" font-weight="bold">Souto 2018</text>
<line x1="75.5" y1="1301.1" x2="75.5" y2="1305.1" stroke="#dddddd" stroke-width="1"/>
<text x="77.6" y="1322.5" text-anchor="middle" font-size="14.5">1-Apr</text>
<line x1="188.1" y1="1301.1" x2="188.1" y2="1305.1" stroke="#dddddd" stroke-width="1"/>
<text x="190.2" y="1322.5" text-anchor="middle" font-size="14.5">30-Apr</text>
<line x1="300.7" y1="1301.1" x2="300.7" y2="1305.1" stroke="#dddddd" stroke-width="1"/>
<text x="302.8" y="1322.5" text-anchor="middle" font-size="14.5">29-May</text>
<line x1="413.2" y1="1301.1" x2="413.2" y2="1305.1" stroke="#dddddd" stroke-width="1"/>
<text x="415.3" y="1322.5" text-anchor="middle" font-size="14.5">27-Jun</text>
<line x1="525.8" y1="1301.1" x2="525.8" y2="1305.1" stroke="#dddddd" stroke-width="1"/>
<text x="527.9" y="1322.5" text-anchor="middle" font-size="14.5">26-Jul</text>
<line x1="638.4" y1="1301.1" x2="638.4" y2="1305.1" stroke="#dddddd" stroke-width="1"/>
<text x="640.5" y="1322.5" text-anchor="middle" font-size="14.5">24-Aug</text>
<text transform="translate(26.1,1187.1) rotate(-90)" text-anchor="middle" font-size="18.5">spores/m<tspan font-size="12.5" dy="-5">3</tspan></text>
<line x1="199.3" y1="1347.6" x2="211.7" y2="1347.6" stroke="#e5352b" stroke-width="1.9"/>
<text transform="translate(212.5,1351.6) scale(1.05,1)" font-size="18" font-style="italic">Botrytis</text>
<line x1="277.6" y1="1347.6" x2="290" y2="1347.6" stroke="#050505" stroke-width="1.9"/>
<text transform="translate(290.8,1351.6) scale(1.05,1)" font-size="18" font-style="italic">Erysiphe</text>
<line x1="360.2" y1="1347.6" x2="372.6" y2="1347.6" stroke="#9bbb59" stroke-width="1.9"/>
<text transform="translate(373.4,1351.6) scale(1.05,1)" font-size="18" font-style="italic">Plasmopara</text>
<polyline points="77.1,1300.6 86.6,1300.9 95.4,1300.9 101.2,1300.6 107,1299.7 114.3,1299.7 117.3,1299.4 120.2,1298.2 123.8,1300.6 127.5,1299.7 131.8,1299.7 135.5,1297.7 139.4,1294.7 143.5,1296.8 147.9,1296.5 151.6,1299.1 155.9,1298.7 159.6,1298.2 163.2,1298.7 167.6,1299.4 170,1298.2 174.4,1298.7 178,1299.7 181.7,1299.7 185.8,1298.7 189.7,1299.7 193.4,1299.4 197,1299.7 201.4,1297.7 205,1299.1 208.7,1298.2 213.1,1299.4 217.4,1297.7 221.8,1299.7 225.5,1299.7 229.1,1298.2 234.2,1299.7 238.6,1300.2 243,1299.7 247.4,1297.2 251.8,1298.2 256.1,1299.1 259.8,1298.2 263.4,1299.4 267.1,1297.2 271.8,1294 275.5,1299.2 279,1297.2 283.1,1290.8 287.4,1282.4 291.6,1291 295.1,1291.3 298.9,1301 315.2,1301 318.5,1295.4 322.2,1299.5 326.3,1287.8 330.2,1297.2 333.9,1301 341.5,1301 345.7,1205.7 349.6,1300.7 353.4,1260.4 357.4,1252 361.3,1262.7 365.4,1300.7 369.1,1300.7 372.9,1285.9 376.8,1300.7 384.6,1300.7 388.7,1254.6 392.4,1264.8 396.3,1217 400.2,1249.9 403.9,1291.9 408,1300.7 411.8,1297.8 415.6,1275.3 419.7,1300.7 423.3,1300.7 427.3,1294.3 431.1,1300.7 439,1300.7 443.1,1259 447,1300.1 450.9,1283.8 454.8,1298.4 458.3,1300.7 462.4,1253.4 466.5,1300.7 470.3,1299.5 474.3,1269.2 478.1,1299.5 481.6,1261.3 485.7,1298.4 489.5,1259 493.7,1251.3 497.3,1300.7 501.4,1280.3 505.3,1297.8 509,1294.3 512.5,1298.4 516.6,1261.6 520.7,1300.7 524.8,1285.9 528.6,1291.3 532.4,1290.8 536.5,1296.4 540.5,1297.8 544,1298.4 548.1,1298.9 551.6,1298.4 555.7,1289 559.8,1299.5 563.9,1299.5 567.6,1298.9 571.5,1290.5 575.2,1299.1 579,1291.4 583,1292.3 587.3,1292.8 591,1294.3 594.6,1298.4 598.3,1296.2 602.7,1296.2 606.3,1299.1 610.2,1293.3 614.3,1291.1 618.4,1291.1 622.4,1291.1 626.3,1296.9 629.7,1294.7 633.3,1291.1 637.4,1278.2 641.3,1290.4 645,1285.5 648.6,1288.9 653,1292.8 656.7,1287 660.8,1298.4" fill="none" stroke="#e5352b" stroke-width="1.5" stroke-linejoin="round"/>
<polyline points="77.1,1301.2 86.6,1301.2 101.2,1301.2 110,1300.9 117.3,1300.9 121.6,1301.2 127.5,1301.2 133.3,1300.9 137.7,1300.2 142.1,1299.7 146.4,1300.2 150.8,1299.4 155.2,1300.6 159.6,1300.2 163.2,1299.4 166.9,1300.6 170,1300.9 177.3,1300.9 184.6,1301.2 191.9,1300.9 199.2,1301.2 201.4,1300.6 205,1301.2 213.8,1301.2 225.5,1301.2 234.2,1301.2 243,1301.2 248.8,1300.6 257.6,1300.9 263.4,1300.9 269.7,1300.7 275.5,1300.7 281.4,1301.3 288.4,1301 291.9,1300.7 294.8,1300.1 298.9,1301.3 315.2,1301.3 318.1,1299.5 322.2,1300.7 326.9,1300.7 333.9,1301.3 349,1301 353.7,1300.7 358.4,1300.1 361.9,1300.7 365.4,1301 369.4,1300.1 372.9,1298.7 376.8,1300.7 384,1300.7 388.1,1297.8 391.6,1300.1 395.1,1299.2 399.2,1301.3 403.9,1301.3 412.1,1301 429.7,1301 439,1301 442.5,1300.3 446,1301 450.7,1300.1 458.3,1301 462.1,1297.8 465.9,1301.3 470.3,1300.3 473.8,1298.9 477.6,1301.3 481.6,1299.5 485.7,1301.3 489.5,1300.7 493.3,1298.4 497.9,1301 501.4,1298.4 505.3,1300.7 509,1300.3 512.5,1301.3 516.6,1298.9 520.7,1301.3 524.8,1298.7 528.6,1297.8 532.4,1296.4 536.5,1300.1 540.5,1297.8 544,1298.4 548.1,1298 551.6,1298.9 555.7,1297.8 559.8,1300.7 563.9,1300.7 567.6,1300.1 571.5,1300.1 575.2,1300.2 579,1295.5 583,1297.2 587.3,1299.1 591,1300.2 594.6,1299.1 598.3,1299.6 602.7,1299.6 606.3,1299.6 610.2,1299.6 614.3,1298.7 618.4,1299.1 621.6,1296.2 625.3,1298.7 629.2,1298.4 633.3,1295.5 637.4,1297.2 640.9,1296.9 645,1299.6 648.6,1299.8 652.3,1299.1 655.9,1292.3 660.8,1300.2" fill="none" stroke="#050505" stroke-width="1.5" stroke-linejoin="round"/>
<polyline points="77.1,1300.6 86.6,1300.9 95.4,1300.9 100.5,1300.2 104.1,1301.2 108.5,1301.2 115.8,1300.9 120.2,1294.7 123.8,1301.2 127.5,1301.2 131.8,1301.2 136.2,1299.7 139.9,1299.1 143.5,1296.5 147.9,1299.1 151.6,1296.5 155.2,1300.6 158.9,1299.4 163.2,1292.4 167.6,1299.1 170,1299.7 174.4,1300.6 178,1299.7 181.7,1300.2 185.8,1299.7 189.7,1300.2 193.4,1299.7 197,1300.2 201.4,1297.7 205,1299.7 210.9,1300.2 216.7,1300.6 222.6,1300.6 228.4,1300.2 234.2,1300.9 240.1,1300.6 243.7,1299.1 247.4,1300.2 251.8,1300.6 257.6,1300.9 263.4,1300.6 268.5,1299.5 272,1300.7 275.5,1300.1 280.2,1300.7 283.7,1300.7 288.4,1300.7 291.3,1300.1 294.8,1298.9 298.9,1301.3 315.2,1301.3 318.7,1300.1 322.2,1300.7 328.1,1300.7 333.9,1301.3 349,1301 353.7,1299.9 358.4,1298.7 361.9,1299.5 365.4,1301 369.4,1300.7 372.9,1299.9 376.8,1301 384,1301 388.1,1300.1 391.6,1299.2 395.7,1298 399.2,1300.3 403.9,1301 412.1,1301 429.7,1301 439,1300.7 442.5,1297.8 446,1300.7 450.7,1300.1 458.3,1301 462.4,1273.2 466.5,1300.7 470.3,1299.5 473.8,1297.5 477.6,1300.7 481.6,1246.4 485.7,1299.5 489.5,1281.2 493.3,1283.8 497.3,1300.7 500.8,1294.3 505.3,1300.7 509,1298.4 512.5,1299.5 516.6,1262.2 520.7,1300.7 524.8,1295.7 528.6,1298.4 532.4,1299.9 536.5,1298 540.5,1297.5 544,1297.5 548.1,1298.4 551.6,1298.4 555.7,1290.8 559.8,1299.5 563.9,1299.2 567.6,1299.5 571.5,1299.2 575.2,1300.6 579,1295.2 583,1296.9 587.3,1298.7 591,1300.2 594.6,1300.2 598.3,1299.8 602.7,1299.8 606.3,1299.8 610.2,1299.8 614.3,1300.2 618.4,1299.8 621.6,1298.7 625.3,1300.2 629.2,1300.6 633.3,1299.8 637.4,1300.6 641.3,1300.2 645,1300.6 648.6,1300.6 653,1300.6 656.7,1300.2 660.8,1300.6" fill="none" stroke="#9bbb59" stroke-width="1.5" stroke-linejoin="round"/>
<path d="M125.1,230.3 L119.1,224.6 L122.1,224.6 L122.1,219.2 L128,219.2 L128,224.6 L131.1,224.6 Z" fill="#fff" stroke="#000" stroke-width="1.1" stroke-linejoin="miter"/>
<path d="M180.3,253.9 L174.3,248.2 L177.4,248.2 L177.4,242.8 L183.2,242.8 L183.2,248.2 L186.3,248.2 Z" fill="#fff" stroke="#000" stroke-width="1.1" stroke-linejoin="miter"/>
<path d="M307.5,152.8 L300.9,146.8 L304.4,146.8 L304.4,141.2 L310.6,141.2 L310.6,146.8 L314.1,146.8 Z" fill="#000" stroke="#000" stroke-width="0.8" stroke-linejoin="miter"/>
<path d="M306.6,171.8 L300.6,166.1 L303.7,166.1 L303.7,160.7 L309.6,160.7 L309.6,166.1 L312.6,166.1 Z" fill="#eeede2" stroke="#000" stroke-width="1.1" stroke-linejoin="miter"/>
<path d="M350.7,183.4 L344.7,177.7 L347.8,177.7 L347.8,172.3 L353.6,172.3 L353.6,177.7 L356.7,177.7 Z" fill="#eeede2" stroke="#000" stroke-width="1.1" stroke-linejoin="miter"/>
<path d="M422.9,218.7 L416.9,213 L419.9,213 L419.9,207.6 L425.8,207.6 L425.8,213 L428.9,213 Z" fill="#eeede2" stroke="#000" stroke-width="1.1" stroke-linejoin="miter"/>
<path d="M512,226.3 L506,220.6 L509.1,220.6 L509.1,215.2 L515,215.2 L515,220.6 L518,220.6 Z" fill="#eeede2" stroke="#000" stroke-width="1.1" stroke-linejoin="miter"/>
<path d="M182.3,595.5 L176.3,589.8 L179.4,589.8 L179.4,584.4 L185.2,584.4 L185.2,589.8 L188.3,589.8 Z" fill="#fff" stroke="#000" stroke-width="1.1" stroke-linejoin="miter"/>
<path d="M379.8,427.2 L373.2,421.2 L376.7,421.2 L376.7,415.6 L382.9,415.6 L382.9,421.2 L386.4,421.2 Z" fill="#000" stroke="#000" stroke-width="0.8" stroke-linejoin="miter"/>
<path d="M380.6,443 L374.6,437.3 L377.7,437.3 L377.7,431.9 L383.6,431.9 L383.6,437.3 L386.6,437.3 Z" fill="#eeede2" stroke="#000" stroke-width="1.1" stroke-linejoin="miter"/>
<path d="M416.1,444.1 L410.1,438.4 L413.2,438.4 L413.2,433 L419.1,433 L419.1,438.4 L422.1,438.4 Z" fill="#eeede2" stroke="#000" stroke-width="1.1" stroke-linejoin="miter"/>
<path d="M610.4,582.4 L604.4,576.7 L607.4,576.7 L607.4,571.3 L613.4,571.3 L613.4,576.7 L616.4,576.7 Z" fill="#eeede2" stroke="#000" stroke-width="1.1" stroke-linejoin="miter"/>
<path d="M162.8,930.7 L156.8,925 L159.9,925 L159.9,919.6 L165.8,919.6 L165.8,925 L168.8,925 Z" fill="#eeede2" stroke="#000" stroke-width="1.1" stroke-linejoin="miter"/>
<path d="M248.5,831.3 L242.5,825.6 L245.6,825.6 L245.6,820.2 L251.4,820.2 L251.4,825.6 L254.5,825.6 Z" fill="#eeede2" stroke="#000" stroke-width="1.1" stroke-linejoin="miter"/>
<path d="M317.4,857.3 L311.4,851.6 L314.4,851.6 L314.4,846.2 L320.3,846.2 L320.3,851.6 L323.4,851.6 Z" fill="#eeede2" stroke="#000" stroke-width="1.1" stroke-linejoin="miter"/>
<path d="M402.9,896.1 L396.9,890.4 L399.9,890.4 L399.9,885 L405.8,885 L405.8,890.4 L408.9,890.4 Z" fill="#eeede2" stroke="#000" stroke-width="1.1" stroke-linejoin="miter"/>
<path d="M203.9,1290.4 L197.9,1284.7 L201,1284.7 L201,1279.3 L206.8,1279.3 L206.8,1284.7 L209.9,1284.7 Z" fill="#eeede2" stroke="#000" stroke-width="1.1" stroke-linejoin="miter"/>
<path d="M223.7,1291.4 L217.1,1285.4 L220.6,1285.4 L220.6,1279.8 L226.8,1279.8 L226.8,1285.4 L230.3,1285.4 Z" fill="#000" stroke="#000" stroke-width="0.8" stroke-linejoin="miter"/>
<path d="M367.7,1225.6 L361.7,1219.9 L364.8,1219.9 L364.8,1214.5 L370.6,1214.5 L370.6,1219.9 L373.7,1219.9 Z" fill="#eeede2" stroke="#000" stroke-width="1.1" stroke-linejoin="miter"/>
<path d="M432.2,1249 L426.2,1243.3 L429.2,1243.3 L429.2,1237.9 L435.1,1237.9 L435.1,1243.3 L438.2,1243.3 Z" fill="#eeede2" stroke="#000" stroke-width="1.1" stroke-linejoin="miter"/>
<path d="M472.3,1249.3 L466.3,1243.6 L469.4,1243.6 L469.4,1238.2 L475.2,1238.2 L475.2,1243.6 L478.3,1243.6 Z" fill="#eeede2" stroke="#000" stroke-width="1.1" stroke-linejoin="miter"/>
<path d="M557.5,1277.3 L551.5,1271.6 L554.5,1271.6 L554.5,1266.2 L560.5,1266.2 L560.5,1271.6 L563.5,1271.6 Z" fill="#eeede2" stroke="#000" stroke-width="1.1" stroke-linejoin="miter"/>
</svg>
</body></html>
